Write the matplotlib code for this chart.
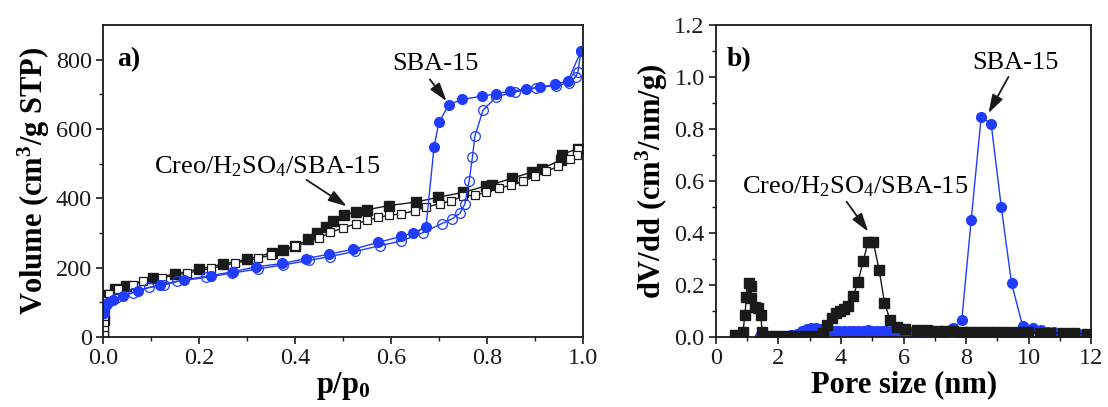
import numpy as np
import matplotlib
matplotlib.use("Agg")
import matplotlib.pyplot as plt

plt.rcParams['font.family'] = ['Liberation Serif', 'DejaVu Serif']
plt.rcParams['mathtext.fontset'] = 'custom'
plt.rcParams['mathtext.rm'] = 'Liberation Serif'
plt.rcParams['mathtext.it'] = 'Liberation Serif:italic'
plt.rcParams['mathtext.bf'] = 'Liberation Serif:bold'

BLACK = '#1a1a1a'
BLUE = '#1f3cff'

# ---- panel a: N2 isotherms ----
creo_ads_p = [0.0005, 0.001, 0.002, 0.004, 0.01, 0.025, 0.048, 0.105, 0.15, 0.2, 0.25, 0.3,
              0.353, 0.376, 0.4, 0.428, 0.447, 0.464, 0.48, 0.503, 0.527, 0.551, 0.596,
              0.652, 0.699, 0.751, 0.799, 0.81, 0.853, 0.895, 0.914, 0.954, 0.956, 0.99]
creo_ads_v = [15, 50, 85, 105, 122, 138, 148, 171, 181, 196, 210, 224,
              243, 251, 261, 282, 300, 316, 335, 352, 360, 367, 379,
              389, 403, 417, 436, 439, 458, 476, 485, 510, 526, 543]
creo_des_p = [0.99, 0.987, 0.973, 0.949, 0.924, 0.9, 0.876, 0.85, 0.826, 0.799, 0.775, 0.751,
              0.726, 0.702, 0.674, 0.65, 0.622, 0.596, 0.574, 0.551, 0.528, 0.5, 0.474, 0.451,
              0.4, 0.351, 0.324, 0.275, 0.226, 0.174, 0.122, 0.084, 0.063, 0.032, 0.012,
              0.003, 0.002, 0.002, 0.002, 0.002, 0.002, 0.002]
creo_des_v = [543, 526, 512, 492, 478, 463, 449, 437, 430, 417, 409, 406,
              393, 384, 375, 364, 355, 351, 345, 336, 327, 314, 302, 285,
              261, 237, 227, 213, 198, 184, 171, 162, 150, 138, 125,
              105, 90, 72, 55, 38, 20, 5]
sba_ads_p = [0.002, 0.008, 0.02, 0.042, 0.072, 0.119, 0.169, 0.225, 0.27, 0.318, 0.374, 0.423,
             0.472, 0.521, 0.574, 0.622, 0.646, 0.673, 0.69, 0.7, 0.721, 0.749, 0.789,
             0.819, 0.848, 0.881, 0.91, 0.942, 0.969, 0.996]
sba_ads_v = [70, 95, 108, 118, 134, 150, 165, 177, 188, 202, 212, 226,
             239, 253, 273, 290, 301, 316, 548, 619, 670, 685, 694,
             701, 709, 714, 720, 728, 738, 824]
sba_des_p = [0.996, 0.99, 0.985, 0.971, 0.945, 0.903, 0.858, 0.82, 0.792, 0.775, 0.77, 0.763,
             0.754, 0.744, 0.728, 0.706, 0.667, 0.622, 0.577, 0.526, 0.473, 0.43, 0.376,
             0.322, 0.268, 0.215, 0.155, 0.127, 0.096, 0.063, 0.028, 0.008, 0.003]
sba_des_v = [824, 765, 750, 733, 725, 719, 706, 693, 654, 579, 519, 449,
             383, 357, 341, 327, 301, 277, 263, 247, 232, 221, 208,
             196, 184, 172, 160, 150, 143, 128, 112, 97, 80]

# ---- panel b: pore size distributions ----
creo_d = [0.61, 0.87, 0.93, 0.98, 1.06, 1.12, 1.14, 1.25, 1.35, 1.44, 1.48, 1.7, 2.0, 2.3,
          2.6, 2.9, 3.2, 3.43, 3.56, 3.7, 3.84, 3.97, 4.1, 4.23, 4.39, 4.55, 4.71, 4.87,
          5.03, 5.22, 5.39, 5.57, 5.78, 6.05, 6.42, 6.74, 7.06, 7.33, 7.59, 7.86, 8.13,
          8.42, 8.71, 9.0, 9.32, 9.64, 9.99, 10.35, 10.69, 11.08, 11.43, 11.86]
creo_dv = [0.008, 0.02, 0.085, 0.155, 0.206, 0.195, 0.149, 0.117, 0.11, 0.085, 0.02, 0.005,
           0.005, 0.005, 0.005, 0.005, 0.005, 0.014, 0.046, 0.074, 0.091, 0.1, 0.107, 0.12,
           0.158, 0.213, 0.293, 0.365, 0.365, 0.258, 0.132, 0.065, 0.04, 0.03, 0.026, 0.025,
           0.024, 0.023, 0.022, 0.021, 0.02, 0.02, 0.02, 0.019, 0.018, 0.018, 0.018, 0.017,
           0.016, 0.015, 0.014, 0.013]
sba_d = [1.4, 1.6, 1.8, 2.0, 2.2, 2.4, 2.6, 2.75, 2.9, 3.05, 3.2, 3.35, 3.5, 3.65, 3.8,
         3.95, 4.1, 4.25, 4.4, 4.55, 4.7, 4.85, 5.0, 5.15, 5.3, 5.45, 5.6, 5.75, 5.9, 6.05,
         6.2, 6.35, 6.5, 6.65, 6.8, 6.95, 7.1, 7.25, 7.4, 7.59, 7.86, 8.16, 8.48, 8.8, 9.12,
         9.45, 9.8, 10.15, 10.4, 10.6, 10.8, 11.0, 11.2, 11.4, 11.6, 11.8, 12.0]
sba_dv = [0.005, 0.005, 0.005, 0.005, 0.005, 0.006, 0.01, 0.022, 0.032, 0.036, 0.034, 0.03,
          0.027, 0.025, 0.024, 0.023, 0.022, 0.022, 0.022, 0.023, 0.024, 0.025, 0.024, 0.023,
          0.022, 0.022, 0.022, 0.022, 0.022, 0.021, 0.02, 0.02, 0.02, 0.02, 0.019, 0.019,
          0.018, 0.018, 0.02, 0.033, 0.065, 0.45, 0.847, 0.818, 0.501, 0.206, 0.044, 0.033,
          0.025, 0.02, 0.018, 0.015, 0.012, 0.015, 0.01, 0.012, 0.01]

fig = plt.figure(figsize=(11.08, 4.07), dpi=100)
ax1 = fig.add_axes([0.093, 0.172, 0.433, 0.767])
ax2 = fig.add_axes([0.646, 0.172, 0.339, 0.767])

ms = 6.5
lw = 1.0
ax1.plot(creo_ads_p, creo_ads_v, '-s', color=BLACK, mfc=BLACK, mec=BLACK, ms=ms, lw=lw)
ax1.plot(creo_des_p, creo_des_v, '-s', color=BLACK, mfc='white', mec=BLACK, ms=ms - 0.5, lw=lw, mew=0.9)
ax1.plot(sba_ads_p, sba_ads_v, '-o', color=BLUE, mfc=BLUE, mec=BLUE, ms=ms + 0.5, lw=lw)
ax1.plot(sba_des_p, sba_des_v, '-o', color=BLUE, mfc='none', mec=BLUE, ms=ms + 0.5, lw=lw, mew=0.9)

arrow = dict(arrowstyle='-|>,head_length=0.8,head_width=0.25', color=BLACK, lw=1.3,
             mutation_scale=14, shrinkA=0, shrinkB=0)
label_fs = 22
note_fs = 19

ax1.set_xlim(0, 1.0)
ax1.set_ylim(0, 900)
ax1.set_xticks(np.arange(0, 1.01, 0.2))
ax1.set_xticks(np.arange(0.1, 1.0, 0.2), minor=True)
ax1.set_yticks(np.arange(0, 801, 200))
ax1.set_yticks(np.arange(100, 900, 200), minor=True)
ax1.set_xlabel(r'p/p$_\mathbf{0}$', fontsize=label_fs, fontweight='bold', labelpad=1)
ax1.set_ylabel(r'Volume (cm$\mathbf{^3}$/g STP)', fontsize=label_fs, fontweight='bold', labelpad=3)
ax1.text(0.03, 0.93, 'a)', transform=ax1.transAxes, fontsize=20, fontweight='bold', va='top')
ax1.text(0.342, 491, r'Creo/H$_2$SO$_4$/SBA-15', fontsize=note_fs, ha='center', va='center')
ax1.annotate('', xy=(0.508, 377), xytext=(0.424, 453), arrowprops=arrow)
ax1.text(0.692, 786, 'SBA-15', fontsize=note_fs, ha='center', va='center')
ax1.annotate('', xy=(0.716, 680), xytext=(0.681, 743), arrowprops=arrow)

ax2.plot(sba_d, sba_dv, '-o', color=BLUE, mfc=BLUE, mec=BLUE, ms=ms + 0.5, lw=lw)
ax2.plot(creo_d, creo_dv, '-s', color=BLACK, mfc=BLACK, mec=BLACK, ms=ms, lw=lw)
ax2.set_xlim(0, 12)
ax2.set_ylim(0, 1.2)
ax2.set_xticks(np.arange(0, 13, 2))
ax2.set_xticks(np.arange(1, 12, 2), minor=True)
ax2.set_yticks(np.arange(0, 1.21, 0.2))
ax2.set_yticks(np.arange(0.1, 1.2, 0.2), minor=True)
ax2.set_yticklabels(['%.1f' % v for v in np.arange(0, 1.21, 0.2)])
ax2.set_xlabel('Pore size (nm)', fontsize=label_fs, fontweight='bold', labelpad=1)
ax2.set_ylabel(r'dV/dd (cm$\mathbf{^3}$/nm/g)', fontsize=label_fs, fontweight='bold', labelpad=3)
ax2.text(0.03, 0.93, 'b)', transform=ax2.transAxes, fontsize=20, fontweight='bold', va='top')
ax2.text(4.45, 0.578, r'Creo/H$_2$SO$_4$/SBA-15', fontsize=note_fs, ha='center', va='center')
ax2.annotate('', xy=(4.87, 0.405), xytext=(4.18, 0.52), arrowprops=arrow)
ax2.text(9.57, 1.053, 'SBA-15', fontsize=note_fs, ha='center', va='center')
ax2.annotate('', xy=(8.71, 0.86), xytext=(9.35, 1.0), arrowprops=arrow)

for ax in (ax1, ax2):
    for s in ax.spines.values():
        s.set_linewidth(1.3)
        s.set_color(BLACK)
    ax.tick_params(which='major', direction='out', length=5, width=1.2, labelsize=17.5,
                   colors=BLACK, pad=3)
    ax.tick_params(which='minor', direction='out', length=3, width=1.0, colors=BLACK)

fig.savefig('out.png', dpi=100)
